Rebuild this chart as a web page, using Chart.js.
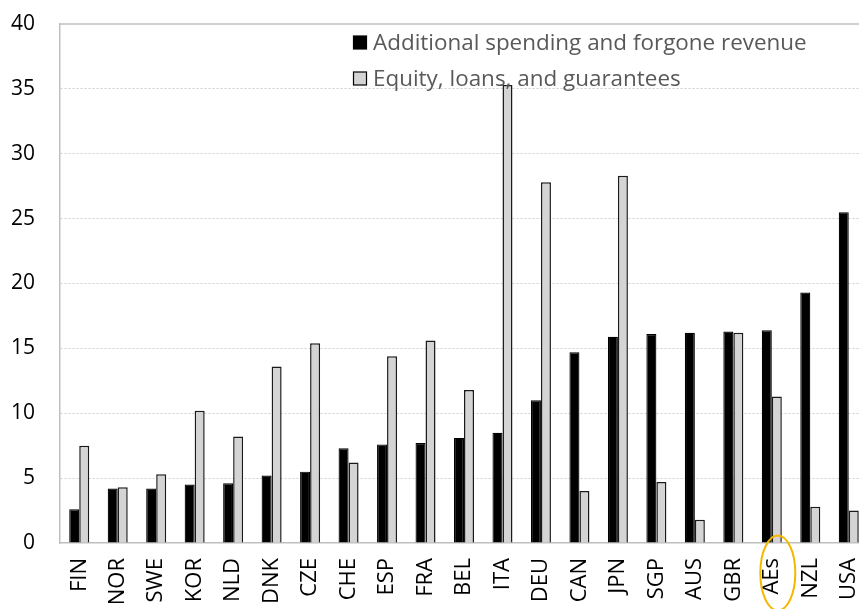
<!DOCTYPE html>
<html>
<head>
<meta charset="utf-8">
<script src="https://cdn.jsdelivr.net/npm/chart.js@4.4.1/dist/chart.umd.min.js"></script>
<style>
  html, body { margin: 0; padding: 0; background: #fff; overflow: hidden; }
  #wrap { position: relative; width: 868px; height: 609px; }
</style>
</head>
<body>
<div id="wrap"><canvas id="c"></canvas></div>
<script>
const categories = ["FIN","NOR","SWE","KOR","NLD","DNK","CZE","CHE","ESP","FRA","BEL","ITA","DEU","CAN","JPN","SGP","AUS","GBR","AEs","NZL","USA"];
const spending = [2.6, 4.2, 4.2, 4.5, 4.6, 5.2, 5.5, 7.3, 7.6, 7.7, 8.1, 8.5, 11.0, 14.7, 15.9, 16.1, 16.2, 16.3, 16.4, 19.3, 25.5];
const equity   = [7.5, 4.3, 5.3, 10.2, 8.2, 13.6, 15.4, 6.2, 14.4, 15.6, 11.8, 35.3, 27.8, 4.0, 28.3, 4.7, 1.8, 16.2, 11.3, 2.8, 2.5];
const seriesNames = ["Additional spending and forgone revenue", "Equity, loans, and guarantees"];
const highlighted = "AEs";
const yMin = 0, yMax = 40, yStep = 5;

const FONT = "'Open Sans', 'Noto Sans', sans-serif";

const overlay = {
  id: 'overlay',
  afterDraw(chart) {
    const ctx = chart.ctx;
    const ca = chart.chartArea;
    ctx.save();
    // top border line
    ctx.strokeStyle = '#bfbfbf';
    ctx.lineWidth = 1.5;
    ctx.beginPath();
    ctx.moveTo(ca.left, ca.top);
    ctx.lineTo(ca.right, ca.top);
    ctx.stroke();

    // legend
    const targetW = 434;
    ctx.font = "20px " + FONT;
    const w = ctx.measureText(seriesNames[0]).width;
    const fs = Math.max(14, Math.min(24, 20 * targetW / w));
    ctx.font = fs.toFixed(2) + "px " + FONT;
    ctx.textBaseline = 'middle';
    chart.data.datasets.forEach((ds, i) => {
      const yc = 43 + 36 * i;
      ctx.fillStyle = ds.backgroundColor;
      ctx.fillRect(353.5, yc - 7, 13, 13);
      ctx.strokeStyle = '#000';
      ctx.lineWidth = 1.2;
      ctx.strokeRect(353.5, yc - 7, 13, 13);
      ctx.fillStyle = '#595959';
      ctx.fillText(ds.label, 373, yc + 1);
    });

    // highlight ellipse
    const xs = chart.scales.x;
    const idx = categories.indexOf(highlighted);
    if (idx >= 0) {
      const cx = xs.getPixelForValue(idx) + 6;
      const cy = ca.bottom + 30;
      ctx.strokeStyle = '#F5B800';
      ctx.lineWidth = 2;
      ctx.beginPath();
      ctx.ellipse(cx, cy, 17.5, 37.5, 0, 0, Math.PI * 2);
      ctx.stroke();
    }
    ctx.restore();
  }
};

new Chart(document.getElementById('c'), {
  type: 'bar',
  data: {
    labels: categories,
    datasets: [
      { label: seriesNames[0], data: spending, backgroundColor: '#000000', borderColor: '#000000', borderWidth: 1.2 },
      { label: seriesNames[1], data: equity, backgroundColor: '#d4d4d4', borderColor: '#1a1a1a', borderWidth: 1.5 }
    ]
  },
  options: {
    responsive: true,
    maintainAspectRatio: false,
    animation: false,
    layout: { padding: { top: 24, right: 0, bottom: 0, left: 0 } },
    datasets: { bar: { categoryPercentage: 0.52, barPercentage: 1.0 } },
    plugins: { legend: { display: false }, tooltip: { enabled: false } },
    scales: {
      x: {
        grid: { display: false, drawTicks: false },
        border: { display: true, color: '#bfbfbf', width: 1.5 },
        ticks: {
          autoSkip: false, maxRotation: 90, minRotation: 90, padding: 15,
          color: '#000', font: { family: FONT, size: 22 }
        },
        afterFit(scale) { scale.height = 66; scale.paddingLeft = 0; scale.paddingRight = 0; }
      },
      y: {
        min: yMin, max: yMax,
        grid: {
          drawTicks: false,
          color: (c) => (c.tick && (c.tick.value === yMin || c.tick.value === yMax)) ? 'rgba(0,0,0,0)' : '#cfcfcf',
          lineWidth: 1
        },
        border: { display: true, color: '#bfbfbf', width: 1.5, dash: [2, 2] },
        ticks: {
          stepSize: yStep, padding: 25,
          color: '#000', font: { family: FONT, size: 21 }
        },
        afterFit(scale) { scale.width = 60; scale.paddingTop = 0; scale.paddingBottom = 0; }
      }
    }
  },
  plugins: [overlay]
});
</script>
</body>
</html>
